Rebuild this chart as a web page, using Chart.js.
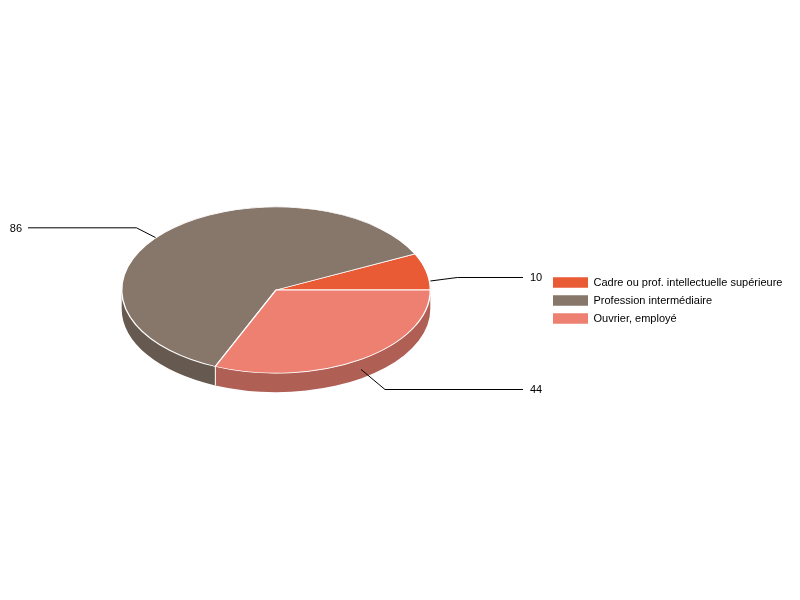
<!DOCTYPE html>
<html lang="fr">
<head>
    <meta charset="UTF-8">
    <title>Camembert</title>
    <script src="https://cdn.jsdelivr.net/npm/chart.js@4/dist/chart.umd.min.js"></script>
    <style>
        html, body { margin: 0; padding: 0; background: #fff; }
        canvas { display: block; }
    </style>
</head>
<body>
<canvas id="chart" width="800" height="600"></canvas>

<script>
    var categories = ['Cadre ou prof. intellectuelle supérieure', 'Profession intermédiaire', 'Ouvrier, employé'];
    var counts = [10, 86, 44];
    var colors = ['#E95B35', '#87766A', '#ED8071'];
    var sideColors = ['#A84326', '#665950', '#B05F55'];

    // tilt of the pie and thickness of the side wall
    var tilt = 0.539;
    var depth = 19;

    // leader lines: start relative to slice middle, then elbow relative to start
    var startShift = [[4, 9.5], [-9, 5], [0, 10]];
    var elbowShift = [[27, -3.5], [-19, -9.7], [24, 20.1]];
    var lineEnds = [523, 28, 523];

    var font = '11px "Liberation Sans", Arial, sans-serif';

    function tiltContext(ctx, el) {
        ctx.translate(el.x, el.y);
        ctx.scale(1, -tilt);
        ctx.translate(-el.x, -el.y);
    }

    var pie3d = {
        id: 'pie3d',
        afterLayout: function (chart) {
            // legend sits right of the pie, not in the layout flow
            var legend = chart.legend;
            var h = legend.bottom - legend.top;
            legend.left = 546;
            legend.right = 546 + legend.width;
            legend.top = 270;
            legend.bottom = 270 + h;
        },
        beforeDatasetDraw: function (chart) {
            var ctx = chart.ctx;
            var arcs = chart.getDatasetMeta(0).data;
            ctx.save();
            tiltContext(ctx, arcs[0]);
            var down = depth / tilt;
            arcs.forEach(function (el, i) {
                var from = Math.max(el.startAngle, Math.PI);
                var to = Math.min(el.endAngle, Math.PI * 2);
                if (from >= to) return;
                ctx.beginPath();
                ctx.arc(el.x, el.y, el.outerRadius, from, to);
                ctx.arc(el.x, el.y - down, el.outerRadius, to, from, true);
                ctx.closePath();
                ctx.fillStyle = sideColors[i];
                ctx.fill();
            });
            ctx.restore();

            // white edge between the side walls
            ctx.save();
            arcs.forEach(function (el) {
                if (el.startAngle <= Math.PI) return;
                var x = el.x + el.outerRadius * Math.cos(el.startAngle);
                var y = el.y - el.outerRadius * tilt * Math.sin(el.startAngle);
                ctx.beginPath();
                ctx.moveTo(x, y);
                ctx.lineTo(x, y + depth);
                ctx.strokeStyle = '#fff';
                ctx.lineWidth = 1;
                ctx.stroke();
            });
            ctx.restore();

            ctx.save();
            tiltContext(ctx, arcs[0]);
        },
        afterDatasetDraw: function (chart) {
            var ctx = chart.ctx;
            ctx.restore();

            var arcs = chart.getDatasetMeta(0).data;
            ctx.save();
            ctx.font = font;
            ctx.textBaseline = 'middle';
            arcs.forEach(function (el, i) {
                var mid = (el.startAngle + el.endAngle) / 2;
                var x = el.x + el.outerRadius * Math.cos(mid) + startShift[i][0];
                var y = el.y - el.outerRadius * tilt * Math.sin(mid) + startShift[i][1];
                var ex = x + elbowShift[i][0];
                var ey = y + elbowShift[i][1];
                ctx.beginPath();
                ctx.moveTo(x, y);
                ctx.lineTo(ex, ey);
                ctx.lineTo(lineEnds[i], ey);
                ctx.strokeStyle = '#000';
                ctx.lineWidth = 1;
                ctx.stroke();

                var right = lineEnds[i] > el.x;
                ctx.fillStyle = '#000';
                ctx.textAlign = right ? 'left' : 'right';
                ctx.fillText(String(counts[i]), lineEnds[i] + (right ? 7 : -6), Math.round(ey - 0.1) + 0.5);
            });
            ctx.restore();
        }
    };

    new Chart(document.getElementById('chart'), {
        type: 'pie',
        data: {
            labels: categories,
            datasets: [{
                data: counts,
                backgroundColor: colors,
                borderColor: '#fff',
                borderWidth: 1.4,
                clip: false
            }]
        },
        options: {
            responsive: false,
            animation: false,
            rotation: 90,
            layout: { padding: { left: 121, right: 369, top: 135, bottom: 155 } },
            plugins: {
                tooltip: { enabled: false },
                legend: {
                    position: 'chartArea',
                    align: 'start',
                    labels: {
                        boxWidth: 35,
                        boxHeight: 10.5,
                        padding: 7,
                        color: '#000',
                        font: { family: '"Liberation Sans", Arial, sans-serif', size: 11 },
                        generateLabels: function (chart) {
                            return categories.map(function (name, i) {
                                return { text: name, fillStyle: colors[i], strokeStyle: colors[i], lineWidth: 0, index: i };
                            });
                        }
                    }
                }
            }
        },
        plugins: [pie3d]
    });
</script>
</body>
</html>
